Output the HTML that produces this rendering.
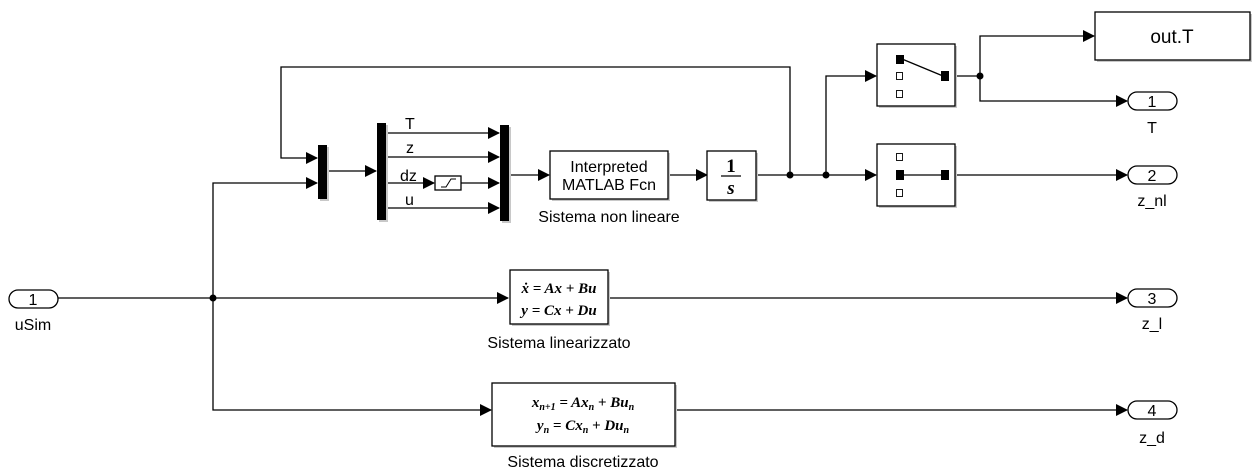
<!DOCTYPE html>
<html><head><meta charset="utf-8"><style>
html,body{margin:0;padding:0;background:#fff;}
svg{display:block;font-family:"Liberation Sans",sans-serif;}
.l{stroke:#000;stroke-width:1.3;fill:none;}
.b{fill:#fff;stroke:#000;stroke-width:1.3;}
.s{fill:#c8c8c8;stroke:none;}
.m{font-family:"Liberation Serif",serif;font-style:italic;font-weight:bold;}
</style></head><body>
<svg width="1252" height="472" viewBox="0 0 1252 472">
<defs>
<marker id="a" markerWidth="12" markerHeight="12" refX="11" refY="6" orient="auto" markerUnits="userSpaceOnUse"><path d="M0,0 L12,6 L0,12 z" fill="#000"/></marker>
</defs>
<path class="l" d="M58,298 H508" marker-end="url(#a)"/>
<path class="l" d="M213,298 V183 H317" marker-end="url(#a)"/>
<path class="l" d="M213,298 V410 H491" marker-end="url(#a)"/>
<path class="l" d="M790,175 V67 H281 V158 H317" marker-end="url(#a)"/>
<path class="l" d="M327,171 H376" marker-end="url(#a)"/>
<path class="l" d="M386,133 H499" marker-end="url(#a)"/>
<path class="l" d="M386,157 H499" marker-end="url(#a)"/>
<path class="l" d="M386,183 H434" marker-end="url(#a)"/>
<path class="l" d="M461,183 H499" marker-end="url(#a)"/>
<path class="l" d="M386,208 H499" marker-end="url(#a)"/>
<path class="l" d="M509,175 H549" marker-end="url(#a)"/>
<path class="l" d="M668,175 H707" marker-end="url(#a)"/>
<path class="l" d="M756,175 H876" marker-end="url(#a)"/>
<path class="l" d="M826,175 V76 H876" marker-end="url(#a)"/>
<path class="l" d="M955,76 H980 V36 H1094" marker-end="url(#a)"/>
<path class="l" d="M980,76 V101 H1127" marker-end="url(#a)"/>
<path class="l" d="M955,175 H1127" marker-end="url(#a)"/>
<path class="l" d="M608,298 H1127" marker-end="url(#a)"/>
<path class="l" d="M675,410 H1127" marker-end="url(#a)"/>
<circle cx="213" cy="298" r="3.5"/><circle cx="790" cy="175" r="3.5"/><circle cx="826" cy="175" r="3.5"/><circle cx="980" cy="76" r="3.5"/>
<rect x="320" y="147" width="9" height="54" class="s"/><rect x="318" y="145" width="9" height="54"/>
<rect x="379" y="125" width="9" height="97" class="s"/><rect x="377" y="123" width="9" height="97"/>
<rect x="502" y="127" width="9" height="96" class="s"/><rect x="500" y="125" width="9" height="96"/>
<g font-size="16"><text x="405" y="129">T</text><text x="406" y="153">z</text><text x="400" y="181">dz</text><text x="405" y="205">u</text></g>
<rect x="435" y="176" width="26" height="14" class="b"/>
<path d="M441,187 H446 L451,179 H456" stroke="#000" stroke-width="1" fill="none"/>
<rect x="552" y="153" width="118" height="48" class="s"/>
<rect x="550" y="151" width="118" height="48" class="b"/>
<text x="609" y="172" font-size="16" text-anchor="middle">Interpreted</text>
<text x="609" y="190" font-size="16" text-anchor="middle">MATLAB Fcn</text>
<text x="609" y="222" font-size="16" text-anchor="middle">Sistema non lineare</text>
<rect x="709" y="153" width="49" height="49" class="s"/>
<rect x="707" y="151" width="49" height="49" class="b"/>
<text x="731" y="172" font-size="19" text-anchor="middle" font-family="Liberation Serif,serif" font-weight="bold">1</text>
<line x1="721" y1="176" x2="741" y2="176" stroke="#000" stroke-width="1.2"/>
<text x="731" y="194" font-size="19" text-anchor="middle" class="m">s</text>
<rect x="879" y="46" width="78" height="62" class="s"/><rect x="877" y="44" width="78" height="62" class="b"/>
<rect x="896" y="55" width="8" height="9"/><rect x="896.5" y="72.5" width="6" height="7" fill="#fff" stroke="#000" stroke-width="0.9"/><rect x="896.5" y="90.5" width="6" height="7" fill="#fff" stroke="#000" stroke-width="0.9"/>
<rect x="941" y="71" width="8" height="10"/><line x1="902" y1="59" x2="943" y2="76" stroke="#000" stroke-width="1.3"/>
<rect x="879" y="146" width="78" height="62" class="s"/><rect x="877" y="144" width="78" height="62" class="b"/>
<rect x="896.5" y="153.5" width="6" height="7" fill="#fff" stroke="#000" stroke-width="0.9"/><rect x="896" y="170" width="8" height="10"/><rect x="896.5" y="189.5" width="6" height="7" fill="#fff" stroke="#000" stroke-width="0.9"/>
<rect x="941" y="170" width="8" height="10"/><line x1="902" y1="175" x2="943" y2="175" stroke="#000" stroke-width="1.3"/>
<rect x="1097" y="14" width="155" height="48" class="s"/><rect x="1095" y="12" width="155" height="48" class="b"/>
<text x="1172" y="43" font-size="19" text-anchor="middle">out.T</text>
<g font-size="16" text-anchor="middle">
<rect x="9" y="290" width="49" height="18" rx="9" class="b"/><text x="33" y="305">1</text><text x="33" y="330">uSim</text>
<rect x="1128" y="92" width="49" height="18" rx="9" class="b"/><text x="1152" y="107">1</text><text x="1152" y="133">T</text>
<rect x="1128" y="166" width="49" height="18" rx="9" class="b"/><text x="1152" y="181">2</text><text x="1152" y="206">z_nl</text>
<rect x="1128" y="289" width="49" height="18" rx="9" class="b"/><text x="1152" y="304">3</text><text x="1152" y="329">z_l</text>
<rect x="1128" y="401" width="49" height="18" rx="9" class="b"/><text x="1152" y="416">4</text><text x="1152" y="443">z_d</text>
</g>
<rect x="512" y="272" width="98" height="54" class="s"/><rect x="510" y="270" width="98" height="54" class="b"/>
<text x="559" y="293" font-size="15" text-anchor="middle" class="m">ẋ = Ax + Bu</text>
<text x="559" y="315" font-size="15" text-anchor="middle" class="m">y = Cx + Du</text>
<text x="559" y="348" font-size="16" text-anchor="middle">Sistema linearizzato</text>
<rect x="494" y="385" width="183" height="63" class="s"/><rect x="492" y="383" width="183" height="63" class="b"/>
<text x="583" y="407" font-size="15" text-anchor="middle" class="m">x<tspan font-size="10" dy="3">n+1</tspan><tspan dy="-3"> = Ax</tspan><tspan font-size="10" dy="3">n</tspan><tspan dy="-3"> + Bu</tspan><tspan font-size="10" dy="3">n</tspan></text>
<text x="583" y="430" font-size="15" text-anchor="middle" class="m">y<tspan font-size="10" dy="3">n</tspan><tspan dy="-3"> = Cx</tspan><tspan font-size="10" dy="3">n</tspan><tspan dy="-3"> + Du</tspan><tspan font-size="10" dy="3">n</tspan></text>
<text x="583" y="467" font-size="16" text-anchor="middle">Sistema discretizzato</text>
</svg>
</body></html>
